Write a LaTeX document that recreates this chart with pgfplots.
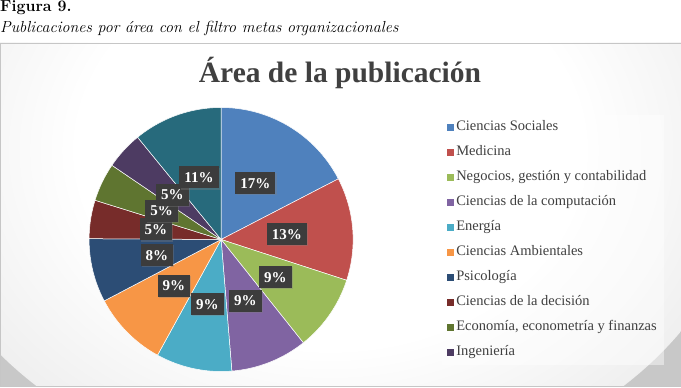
\documentclass[border=0pt]{standalone}
\usepackage{pgfplots}
\pgfplotsset{compat=1.18}
\usepackage{fontspec}
\newfontfamily\chartfont{Liberation Serif}
\usetikzlibrary{shadows}
\definecolor{s1}{HTML}{4F81BD}
\definecolor{s2}{HTML}{C0504D}
\definecolor{s3}{HTML}{9BBB59}
\definecolor{s4}{HTML}{8064A2}
\definecolor{s5}{HTML}{4BACC6}
\definecolor{s6}{HTML}{F79646}
\definecolor{s7}{HTML}{2C4D75}
\definecolor{s8}{HTML}{772C2A}
\definecolor{s9}{HTML}{5F7530}
\definecolor{s10}{HTML}{4D3B62}
\definecolor{s11}{HTML}{276A7C}
\definecolor{txt}{HTML}{404040}
\definecolor{lblbg}{HTML}{3C3C3C}
\definecolor{bgout}{HTML}{C8C8C8}
\pgfdeclareradialshading{chartbg}{\pgfpointorigin}{color(0bp)=(white); color(15bp)=(white); color(50bp)=(bgout); color(100bp)=(bgout)}
% value (percent) / colour / shown label
\def\piedata{17.4/s1/17, 12.6/s2/13, 9.3/s3/9, 9.4/s4/9, 9.3/s5/9, 9.3/s6/9, 7.8/s7/8, 4.7/s8/5, 4.7/s9/5, 4.6/s10/5, 10.9/s11/11}
\tikzset{lbl/.style={fill=lblbg, text=white, font=\chartfont\bfseries\fontsize{15}{16}\selectfont,
  inner xsep=5pt, inner ysep=5pt, text height=11pt, text depth=1pt,
  drop shadow={opacity=0.35, shadow xshift=1.2pt, shadow yshift=-1.2pt}}}
\begin{document}
\begin{tikzpicture}[x=1pt,y=1pt]
\path[use as bounding box] (0,0) rectangle (681,388);
\begin{scope}
\clip (0,2) rectangle (681,345);
\fill[bgout] (0,2) rectangle (681,345);
\shade[shading=chartbg] (330,238) ellipse [x radius=420, y radius=330];
\end{scope}
\draw[gray!45, line width=0.7pt] (0,2) rectangle (681,345);
\node[anchor=base west, inner sep=0pt, font=\bfseries\fontsize{16}{18}\selectfont] at (0,376) {Figura 9.};
\node[anchor=base west, inner sep=0pt, font=\itshape\fontsize{16}{18}\selectfont] at (0,355) {Publicaciones por área con el filtro metas organizacionales};
\node[anchor=base, inner sep=0pt, text=txt, font=\chartfont\bfseries\fontsize{29.5}{31}\selectfont] at (340,305) {Área de la publicación};
\begin{axis}[at={(67.5,12.5)}, anchor=south west, x=132pt, y=132pt,
  xmin=-1, xmax=1, ymin=-1, ymax=1, hide axis, clip=false,
  legend cell align=left,
  legend image code/.code={\fill[#1, draw=none, fill opacity=1] (0pt,-3.5pt) rectangle (7pt,3.5pt);},
  legend style={at={(1.337,0.973)}, anchor=north west, draw=none, fill=white, fill opacity=0.45, text opacity=1,
    font=\chartfont\fontsize{14.5}{16}\selectfont, text=txt, inner xsep=5pt, inner ysep=0pt, row sep=0pt,
    nodes={text height=9.5pt, text depth=3pt, inner ysep=6.25pt, inner xsep=2pt}},
  legend entries={Ciencias Sociales, Medicina, {Negocios, gestión y contabilidad}, Ciencias de la computación,
    Energía, Ciencias Ambientales, Psicología, Ciencias de la decisión, {Economía, econometría y finanzas}, Ingeniería},
]
\gdef\cum{0}
\foreach \v/\c/\l in \piedata {
  \pgfmathsetmacro\sa{90-3.6*\cum}
  \pgfmathsetmacro\sb{90-3.6*(\cum+\v)}
  \edef\tmp{\noexpand\addplot[fill=\c, draw=white, line width=0.5pt, domain=\sb:\sa, samples=60, variable=\noexpand\t]
     ({cos(\noexpand\t)},{sin(\noexpand\t)}) -- (axis cs:0,0) -- cycle;}
  \tmp
  \pgfmathsetmacro\nc{\cum+\v}\xdef\cum{\nc}
}
\gdef\cum{0}
\foreach \v/\c/\l in \piedata {
  \pgfmathsetmacro\sm{90-3.6*(\cum+\v/2)}
  \pgfmathsetmacro\lx{0.5*cos(\sm)}
  \pgfmathsetmacro\ly{0.5*sin(\sm)}
  \edef\tmp{\noexpand\node[lbl] at (axis cs:\lx,\ly) {\l\noexpand\%};}
  \tmp
  \pgfmathsetmacro\nc{\cum+\v}\xdef\cum{\nc}
}
\end{axis}
\end{tikzpicture}
\end{document}
